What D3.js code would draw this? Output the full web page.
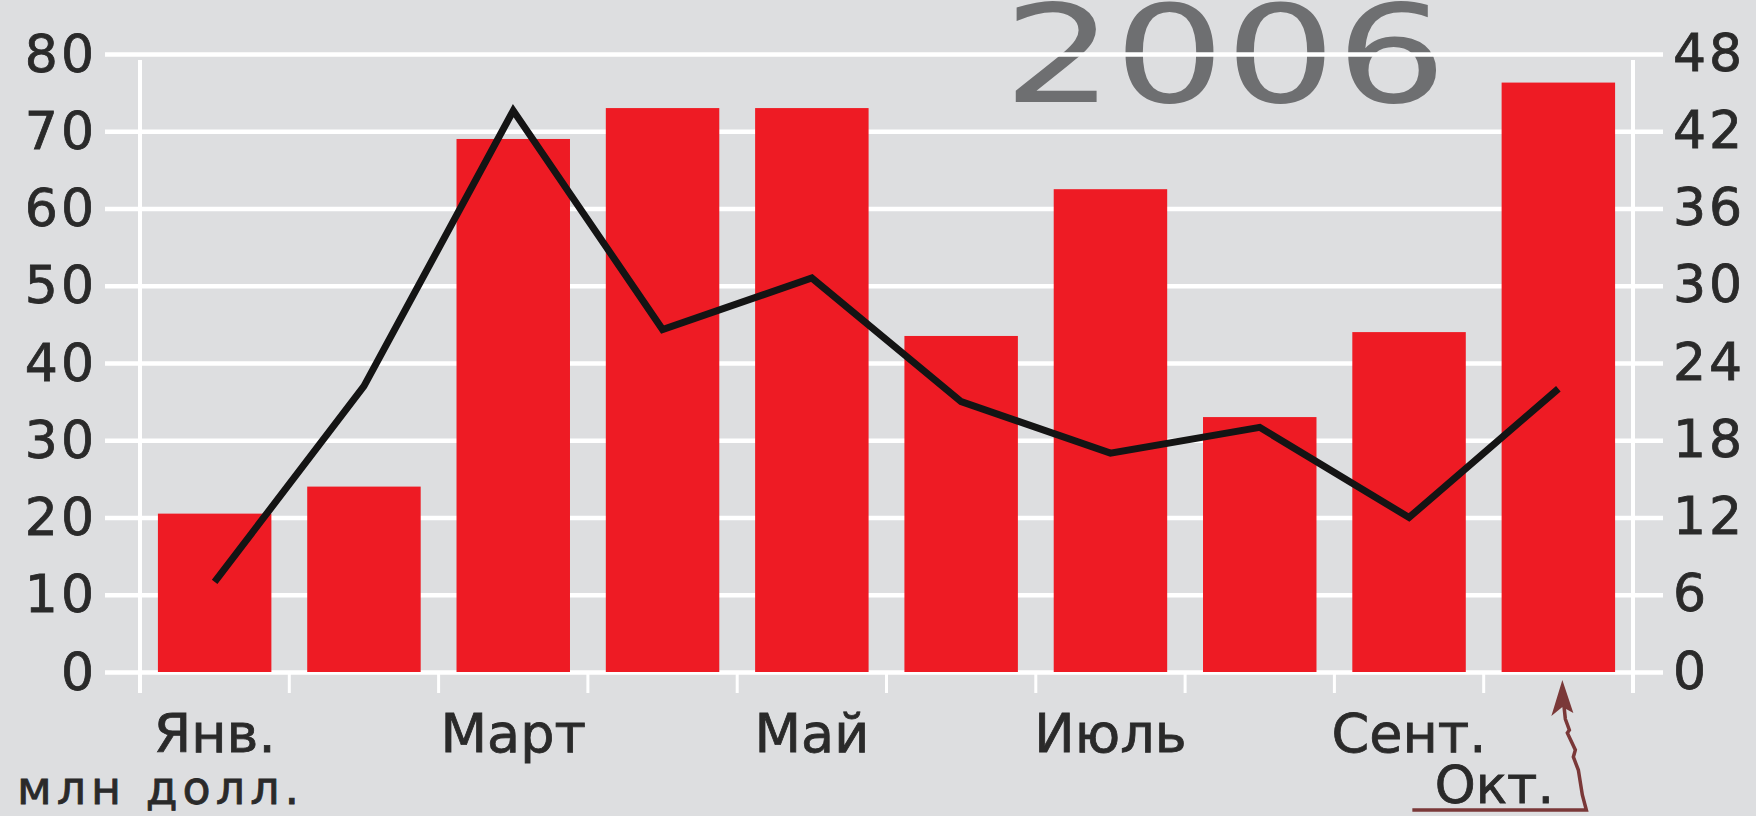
<!DOCTYPE html>
<html>
<head>
<meta charset="utf-8">
<script src="https://cdn.jsdelivr.net/npm/d3@7/dist/d3.min.js"></script>
<style>
  html, body { margin: 0; padding: 0; background: #dddee0; overflow: hidden; }
  svg { display: block; }
  text { font-family: "DejaVu Sans", sans-serif; }
</style>
</head>
<body>
<svg id="chart" width="1756" height="816"></svg>
<script>
// months along the bottom, and which of them get a label
const months = ["Янв.", "Фев.", "Март", "Апр.", "Май", "Июнь", "Июль", "Авг.", "Сент.", "Окт."];
const shownLabels = ["Янв.", "Март", "Май", "Июль", "Сент."];

// bars, млн долл. (left axis)
const barValues = [20.5, 24, 69, 73, 73, 43.5, 62.5, 33, 44, 76.3];
// black line (right axis)
const lineValues = [7, 22.2, 43.6, 26.6, 30.6, 21, 17, 19, 12, 22];

const leftTicks = [0, 10, 20, 30, 40, 50, 60, 70, 80];
const rightTicks = [0, 6, 12, 18, 24, 30, 36, 42, 48];

const svg = d3.select("#chart");
const ink = "#2a2a2a";

let x = d3.scaleBand()
	.domain(months)
	.range([140, 1633])
	.paddingInner(0.24)
	.paddingOuter(0.12);

let y = d3.scaleLinear().domain([0, 80]).range([672, 54]);
let yR = d3.scaleLinear().domain([0, 48]).range([672, 54]);

let step = x.step();
let cx = m => x(m) + x.bandwidth() / 2;

// big year, behind the grid
svg.append("text")
	.attr("x", 1003)
	.attr("y", 102)
	.attr("textLength", 444)
	.attr("lengthAdjust", "spacingAndGlyphs")
	.style("font-size", "136px")
	.style("fill", "#6e6f71")
	.text("2006");

// left axis + horizontal grid
let gLeft = svg.append("g")
	.attr("transform", "translate(105,0)")
	.call(d3.axisLeft(y).tickValues(leftTicks).tickSize(-(1663 - 105)).tickPadding(8));
gLeft.select(".domain").remove();
gLeft.selectAll(".tick line").attr("stroke", "#ffffff").attr("stroke-width", 4.5);
gLeft.selectAll(".tick text")
	.attr("dy", 17)
	.style("font-size", "52px")
	.style("letter-spacing", "3px")
	.style("fill", ink)
	.style("stroke", ink)
	.style("stroke-width", 0.8);

// right axis labels
let gRight = svg.append("g")
	.attr("transform", "translate(1663,0)")
	.call(d3.axisRight(yR).tickValues(rightTicks).tickSize(0).tickPadding(10));
gRight.select(".domain").remove();
gRight.selectAll(".tick text")
	.attr("dy", 16)
	.style("font-size", "52px")
	.style("letter-spacing", "3px")
	.style("fill", ink)
	.style("stroke", ink)
	.style("stroke-width", 0.8);

// vertical frame lines and ticks between the months
let bounds = months.map(m => x(m) - step * x.paddingOuter());
bounds.push(x.range()[1]);

svg.append("g").selectAll("line")
	.data([x.range()[0], x.range()[1]])
	.enter()
	.append("line")
	.attr("x1", d => d).attr("x2", d => d)
	.attr("y1", 60).attr("y2", 693)
	.attr("stroke", "#ffffff")
	.attr("stroke-width", 4);

svg.append("g").selectAll("line")
	.data(bounds)
	.enter()
	.append("line")
	.attr("x1", d => d).attr("x2", d => d)
	.attr("y1", y(0)).attr("y2", 693)
	.attr("stroke", "#ffffff")
	.attr("stroke-width", 3);

// bars
svg.append("g").selectAll("rect")
	.data(barValues)
	.enter()
	.append("rect")
	.attr("x", (d, i) => x(months[i]))
	.attr("width", x.bandwidth())
	.attr("y", d => y(d))
	.attr("height", d => y(0) - y(d))
	.style("fill", "#ee1b24");

// line
let line = d3.line()
	.x((d, i) => cx(months[i]))
	.y(d => yR(d));

svg.append("path")
	.datum(lineValues)
	.attr("d", line)
	.attr("fill", "none")
	.attr("stroke", "#141414")
	.attr("stroke-width", 7)
	.attr("stroke-linejoin", "miter");

// month labels
svg.append("g").selectAll("text")
	.data(shownLabels)
	.enter()
	.append("text")
	.attr("x", d => cx(d))
	.attr("y", 752)
	.attr("text-anchor", "middle")
	.style("font-size", "54px")
	.style("fill", ink)
	.style("stroke", ink)
	.style("stroke-width", 0.8)
	.text(d => d);

// unit label
svg.append("text")
	.attr("x", 17)
	.attr("y", 804)
	.style("font-size", "46px")
	.style("letter-spacing", "5px")
	.style("fill", ink)
	.style("stroke", ink)
	.style("stroke-width", 0.8)
	.text("млн долл.");

// "Окт." callout with zigzag arrow up to the last bar
let oct = months[months.length - 1];
let ox = cx(oct);
svg.append("text")
	.attr("x", ox - 64)
	.attr("y", 803)
	.attr("text-anchor", "middle")
	.style("font-size", "52px")
	.style("fill", ink)
	.style("stroke", ink)
	.style("stroke-width", 0.8)
	.text(oct);

let arrowPts = [
	[ox - 146, 810], [ox + 28, 810], [ox + 24, 795], [ox + 20, 770],
	[ox + 15, 757], [ox + 17, 750], [ox + 9, 733], [ox + 11, 730],
	[ox + 7, 719], [ox + 5, 700]
];
svg.append("path")
	.attr("d", d3.line()(arrowPts))
	.attr("fill", "none")
	.attr("stroke", "#7a3838")
	.attr("stroke-width", 3.5);

svg.append("path")
	.attr("d", d3.line()([[ox + 4, 680], [ox - 7, 716], [ox + 4, 707], [ox + 15, 713], [ox + 4, 680]]))
	.attr("fill", "#7a3838");
</script>
</body>
</html>
